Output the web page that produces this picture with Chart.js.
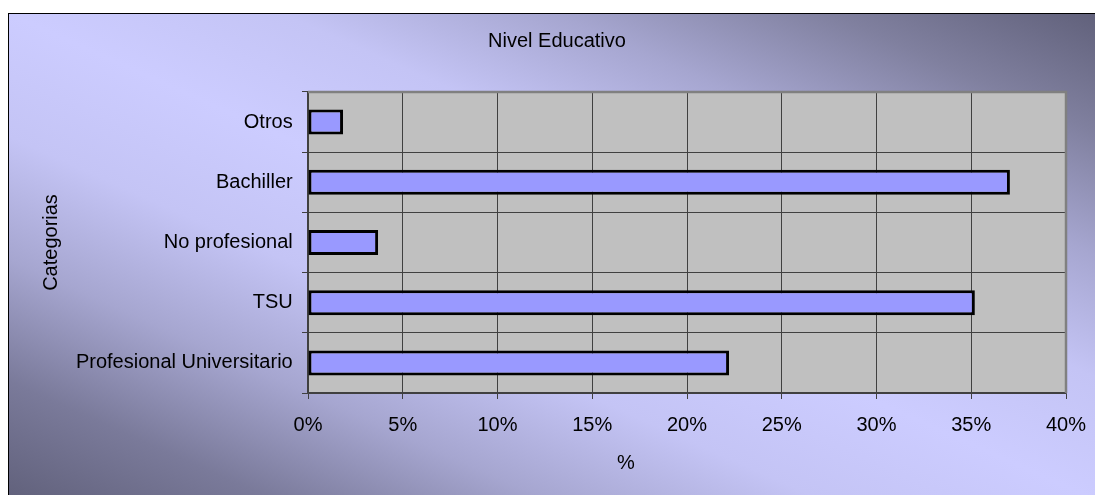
<!DOCTYPE html>
<html>
<head>
<meta charset="utf-8">
<script src="https://cdn.jsdelivr.net/npm/chart.js@4.4.0/dist/chart.umd.min.js"></script>
<style>
  html, body { margin: 0; padding: 0; overflow: hidden; background: #fff; }
  #box {
    position: absolute; left: 8px; top: 13px;
    width: 1096px; height: 490px;
    border: 1px solid #000;
    background: linear-gradient(to top right,
      #60607a 0%, #7a7a9a 12.5%, #a6a6d0 25%, #c4c4f5 37.5%, #ccccff 50%,
      #c4c4f5 62.5%, #a6a6d0 75%, #80809f 87.5%, #60607a 100%);
  }
</style>
</head>
<body>
<div id="box"><canvas id="myChart" width="1096" height="490"></canvas></div>
<script>
let categorias = ['Otros', 'Bachiller', 'No profesional', 'TSU', 'Profesional Universitario'];
let porcentajes = [1.85, 37.04, 3.70, 35.19, 22.22];
let ticksX = [0, 5, 10, 15, 20, 25, 30, 35, 40];
let tituloX = '%';

Chart.defaults.font.family = '"Liberation Sans", Arial, sans-serif';
Chart.defaults.font.size = 20;
Chart.defaults.color = '#000';

// fondo gris del area de trazado + borde gris + titulo del eje x
const plotArea = {
  id: 'plotArea',
  beforeDraw(chart) {
    const {ctx, chartArea: a} = chart;
    ctx.save();
    ctx.fillStyle = '#c0c0c0';
    ctx.fillRect(a.left, a.top, a.right - a.left, a.bottom - a.top);
    ctx.restore();
  },
  beforeDatasetsDraw(chart) {
    const {ctx, chartArea: a} = chart;
    ctx.save();
    ctx.strokeStyle = '#808080';
    ctx.lineWidth = 2.5;
    ctx.beginPath();
    ctx.moveTo(a.left, a.top);
    ctx.lineTo(a.right, a.top);
    ctx.lineTo(a.right, a.bottom);
    ctx.stroke();
    ctx.restore();
  },
  afterDraw(chart) {
    const {ctx, chartArea: a} = chart;
    ctx.save();
    ctx.font = '20px "Liberation Sans", Arial, sans-serif';
    ctx.fillStyle = '#000';
    ctx.textAlign = 'center';
    ctx.textBaseline = 'middle';
    ctx.fillText(tituloX, a.left + 318, a.bottom + 70);
    ctx.restore();
  }
};

let ctx = document.getElementById('myChart').getContext('2d');
let myChart = new Chart(ctx, {
  type: 'bar',
  data: {
    labels: categorias,
    datasets: [{
      data: porcentajes,
      backgroundColor: '#9999ff',
      borderColor: '#000',
      borderWidth: 3,
      borderSkipped: false,
      categoryPercentage: 1,
      barPercentage: 0.415
    }]
  },
  options: {
    indexAxis: 'y',
    responsive: false,
    animation: false,
    layout: { padding: 0 },
    plugins: {
      legend: { display: false },
      tooltip: { enabled: false },
      title: {
        display: true,
        text: 'Nivel Educativo',
        font: { size: 20, weight: 'normal' },
        color: '#000',
        padding: { top: 15, bottom: 39 }
      }
    },
    scales: {
      x: {
        min: 0,
        max: 40,
        afterBuildTicks: (scale) => { scale.ticks = ticksX.map(v => ({ value: v })); },
        afterFit: (scale) => { scale.height = 111; },
        ticks: {
          padding: 14,
          maxRotation: 0,
          callback: (v) => v + '%'
        },
        grid: { color: '#404040', lineWidth: 1, tickLength: 6 },
        border: { color: '#404040', width: 1.5 }
      },
      y: {
        afterFit: (scale) => { scale.width = 299; },
        ticks: { padding: 9.3 },
        grid: { color: '#404040', lineWidth: 1, tickLength: 6 },
        border: { color: '#404040', width: 1.5 },
        title: {
          display: true,
          text: 'Categorias',
          padding: { top: 30, bottom: 0 }
        }
      },
      // eje vacio a la derecha: margen del grafico original
      y2: {
        position: 'right',
        type: 'linear',
        afterFit: (scale) => { scale.width = 39; },
        ticks: { display: false },
        grid: { display: false, drawTicks: false },
        border: { display: false }
      }
    }
  },
  plugins: [plotArea]
});
</script>
</body>
</html>
